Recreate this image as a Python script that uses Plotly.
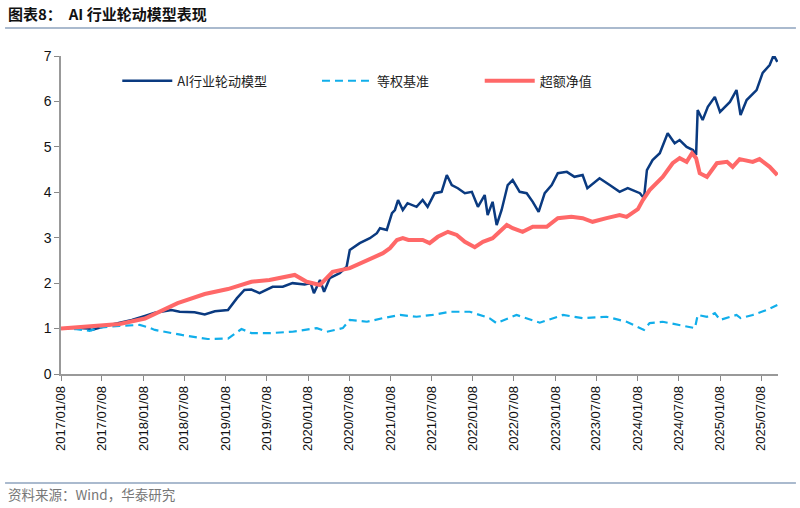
import plotly.graph_objects as go

# AI industry rotation model (dark blue)
model_dates = ["2017-01-08","2017-03-09","2017-05-06","2017-05-24","2017-07-20","2017-10-04","2017-11-18",
    "2018-01-15","2018-02-28","2018-05-13","2018-06-18","2018-08-23","2018-10-07","2018-11-21",
    "2019-01-18","2019-02-27","2019-04-01","2019-05-02","2019-06-07","2019-08-04","2019-09-18","2019-10-31",
    "2019-12-24","2020-01-20","2020-02-03","2020-03-01","2020-03-19","2020-04-13","2020-05-27","2020-06-27",
    "2020-07-11","2020-08-24","2020-10-08","2020-11-08","2020-11-22","2020-12-22","2021-01-14","2021-01-27",
    "2021-02-10","2021-03-03","2021-03-24","2021-05-03","2021-05-30","2021-06-21","2021-07-22","2021-08-22",
    "2021-09-14","2021-10-06","2021-11-02","2021-12-03","2022-01-03","2022-01-30","2022-03-01","2022-03-14",
    "2022-04-05","2022-04-23","2022-05-15","2022-06-11","2022-07-03","2022-08-03","2022-09-03","2022-09-30",
    "2022-10-26","2022-11-22","2022-12-23","2023-01-19","2023-02-28","2023-04-03","2023-05-09","2023-05-30",
    "2023-07-23","2023-09-06","2023-10-20","2023-11-25","2024-01-04","2024-01-18","2024-02-05","2024-02-18",
    "2024-03-14","2024-04-15","2024-05-20","2024-06-20","2024-07-12","2024-08-12","2024-09-09","2024-09-23",
    "2024-09-30","2024-10-22","2024-11-14","2024-12-15","2025-01-07","2025-02-20","2025-03-21","2025-04-08",
    "2025-05-05","2025-06-18","2025-07-15","2025-08-15","2025-09-02","2025-09-18"]
model_values = [1.00,1.02,1.00,0.97,1.05,1.13,1.19,
    1.28,1.35,1.41,1.37,1.36,1.31,1.38,
    1.41,1.67,1.85,1.86,1.78,1.92,1.92,2.00,
    1.97,2.00,1.78,2.07,1.81,2.11,2.22,2.36,
    2.73,2.88,2.99,3.10,3.21,3.17,3.54,3.61,
    3.83,3.61,3.76,3.68,3.83,3.68,3.98,4.01,
    4.38,4.16,4.09,3.98,4.01,3.68,3.94,3.50,
    3.79,3.28,3.61,4.16,4.27,4.01,3.98,3.79,
    3.57,3.98,4.16,4.42,4.45,4.34,4.38,4.09,
    4.31,4.16,4.01,4.09,4.01,3.98,3.87,4.49,
    4.71,4.86,5.30,5.08,5.15,5.00,4.93,4.82,
    5.81,5.59,5.88,6.10,5.77,5.99,6.25,5.70,
    6.03,6.25,6.63,6.80,7.02,6.87]

# Equal-weight benchmark (light blue dashed)
bench_dates = ["2017-01-08","2017-03-09","2017-05-15","2017-06-28","2017-09-25","2017-12-23","2018-01-28",
    "2018-02-28","2018-06-27","2018-10-20","2019-01-18","2019-03-19","2019-05-02","2019-07-21","2019-10-31",
    "2020-02-16","2020-03-31","2020-06-10","2020-07-11","2020-09-25","2020-12-05","2021-02-19","2021-05-03",
    "2021-07-13","2021-09-27","2021-12-25","2022-03-22","2022-04-22","2022-07-20","2022-10-31","2023-02-11",
    "2023-05-09","2023-08-23","2023-11-20","2024-02-05","2024-03-01","2024-04-28","2024-07-12","2024-09-18",
    "2024-09-30","2024-11-10","2024-12-15","2025-01-07","2025-03-21","2025-04-08","2025-06-01","2025-08-02",
    "2025-09-18"]
bench_values = [1.00,0.99,0.95,1.02,1.06,1.08,1.03,
    0.97,0.86,0.77,0.78,0.99,0.90,0.90,0.93,
    1.01,0.93,1.01,1.19,1.15,1.23,1.30,1.26,
    1.30,1.37,1.37,1.23,1.12,1.30,1.13,1.30,
    1.23,1.26,1.15,0.97,1.12,1.15,1.08,1.01,
    1.30,1.26,1.34,1.19,1.30,1.23,1.30,1.41,
    1.52]

# Excess net value (red)
excess_dates = ["2017-01-08","2017-05-15","2017-09-25","2018-01-15","2018-03-21","2018-06-09","2018-10-07",
    "2019-01-18","2019-05-02","2019-07-21","2019-11-10","2020-01-02","2020-03-01","2020-04-26","2020-07-11",
    "2020-09-25","2020-12-05","2021-01-05","2021-02-05","2021-03-03","2021-03-28","2021-05-30","2021-06-30",
    "2021-08-05","2021-09-19","2021-10-28","2021-12-03","2022-01-16","2022-02-21","2022-04-05","2022-06-07",
    "2022-07-03","2022-08-16","2022-09-30","2022-12-01","2023-01-19","2023-03-20","2023-05-09","2023-06-22",
    "2023-08-23","2023-10-20","2023-11-20","2024-01-09","2024-01-31","2024-03-01",
    "2024-04-28","2024-06-11","2024-07-12","2024-08-12","2024-09-05","2024-09-23","2024-10-09","2024-11-10",
    "2024-12-24","2025-02-07","2025-03-04","2025-04-04","2025-06-01","2025-07-01","2025-08-15","2025-09-18"]
excess_values = [1.00,1.04,1.10,1.22,1.38,1.56,1.76,
    1.87,2.03,2.07,2.18,2.03,1.96,2.25,2.33,
    2.51,2.66,2.77,2.95,2.99,2.95,2.95,2.88,
    3.02,3.13,3.06,2.91,2.79,2.91,2.99,3.28,
    3.21,3.13,3.24,3.24,3.43,3.46,3.43,3.35,
    3.43,3.50,3.46,3.63,3.83,4.05,
    4.34,4.64,4.75,4.67,4.86,4.75,4.42,4.34,
    4.64,4.67,4.56,4.73,4.67,4.73,4.56,4.38]

tick_dates = ["2017-01-08","2017-07-08","2018-01-08","2018-07-08","2019-01-08","2019-07-08",
    "2020-01-08","2020-07-08","2021-01-08","2021-07-08","2022-01-08","2022-07-08",
    "2023-01-08","2023-07-08","2024-01-08","2024-07-08","2025-01-08","2025-07-08"]
tick_labels = [d.replace("-", "/") for d in tick_dates]

FONT = "Liberation Sans, Noto Sans CJK SC, sans-serif"
CJK = "Noto Sans CJK SC, Liberation Sans, sans-serif"

fig = go.Figure()
fig.add_trace(go.Scatter(x=model_dates, y=model_values, mode="lines", name="AI行业轮动模型",
    line=dict(color="#0A3A80", width=2.5), legend="legend", showlegend=True))
fig.add_trace(go.Scatter(x=bench_dates, y=bench_values, mode="lines", name="等权基准",
    line=dict(color="#11AEEA", width=2.2, dash="8px,5px"), legend="legend2", showlegend=True))
fig.add_trace(go.Scatter(x=excess_dates, y=excess_values, mode="lines", name="超额净值",
    line=dict(color="#FF6868", width=4), legend="legend3", showlegend=True))

leg_common = dict(orientation="h", yanchor="middle", y=0.922, xanchor="left",
    font=dict(family=CJK, size=13, color="#222"), bgcolor="rgba(0,0,0,0)", itemwidth=50)

fig.update_layout(
    width=800, height=508,
    margin=dict(l=61, r=22, t=56, b=134),
    plot_bgcolor="white", paper_bgcolor="white",
    font=dict(family=FONT, size=12, color="#111"),
    showlegend=True,
    legend=dict(**leg_common, x=0.0785),
    legend2=dict(**leg_common, x=0.357),
    legend3=dict(**leg_common, x=0.584),
    xaxis=dict(type="date", range=["2017-01-08", "2025-09-21"], tickvals=tick_dates, ticktext=tick_labels,
        tickangle=-90, ticks="outside", ticklen=5, tickcolor="#888", showline=True, linecolor="#999",
        linewidth=1.5, showgrid=False, zeroline=False, tickfont=dict(family=FONT, size=13, color="#111")),
    yaxis=dict(range=[0, 7], dtick=1, ticks="outside", ticklen=5, tickcolor="#888", showline=True,
        linecolor="#999", linewidth=1.5, showgrid=False, zeroline=False,
        tickfont=dict(family=FONT, size=14, color="#111")),
    annotations=[
        dict(text="<b>图表8：  AI 行业轮动模型表现</b>", xref="paper", yref="paper", x=-0.077, y=1.135,
             xanchor="left", yanchor="middle", showarrow=False, font=dict(family=CJK, size=15, color="#111")),
        dict(text="资料来源：Wind，华泰研究", xref="paper", yref="paper", x=-0.077, y=-0.378,
             xanchor="left", yanchor="middle", showarrow=False, font=dict(family=CJK, size=13.5, color="#777")),
    ],
    shapes=[
        dict(type="line", xref="paper", yref="paper", x0=-0.078, x1=1.025, y0=1.088, y1=1.088,
             line=dict(color="#8EA3BE", width=1.5)),
        dict(type="line", xref="paper", yref="paper", x0=-0.078, x1=1.025, y0=-0.343, y1=-0.343,
             line=dict(color="#8EA3BE", width=1.5)),
    ],
)

fig.write_html("out.html", config={"displayModeBar": False},
               post_script="document.body.style.margin='0';")
